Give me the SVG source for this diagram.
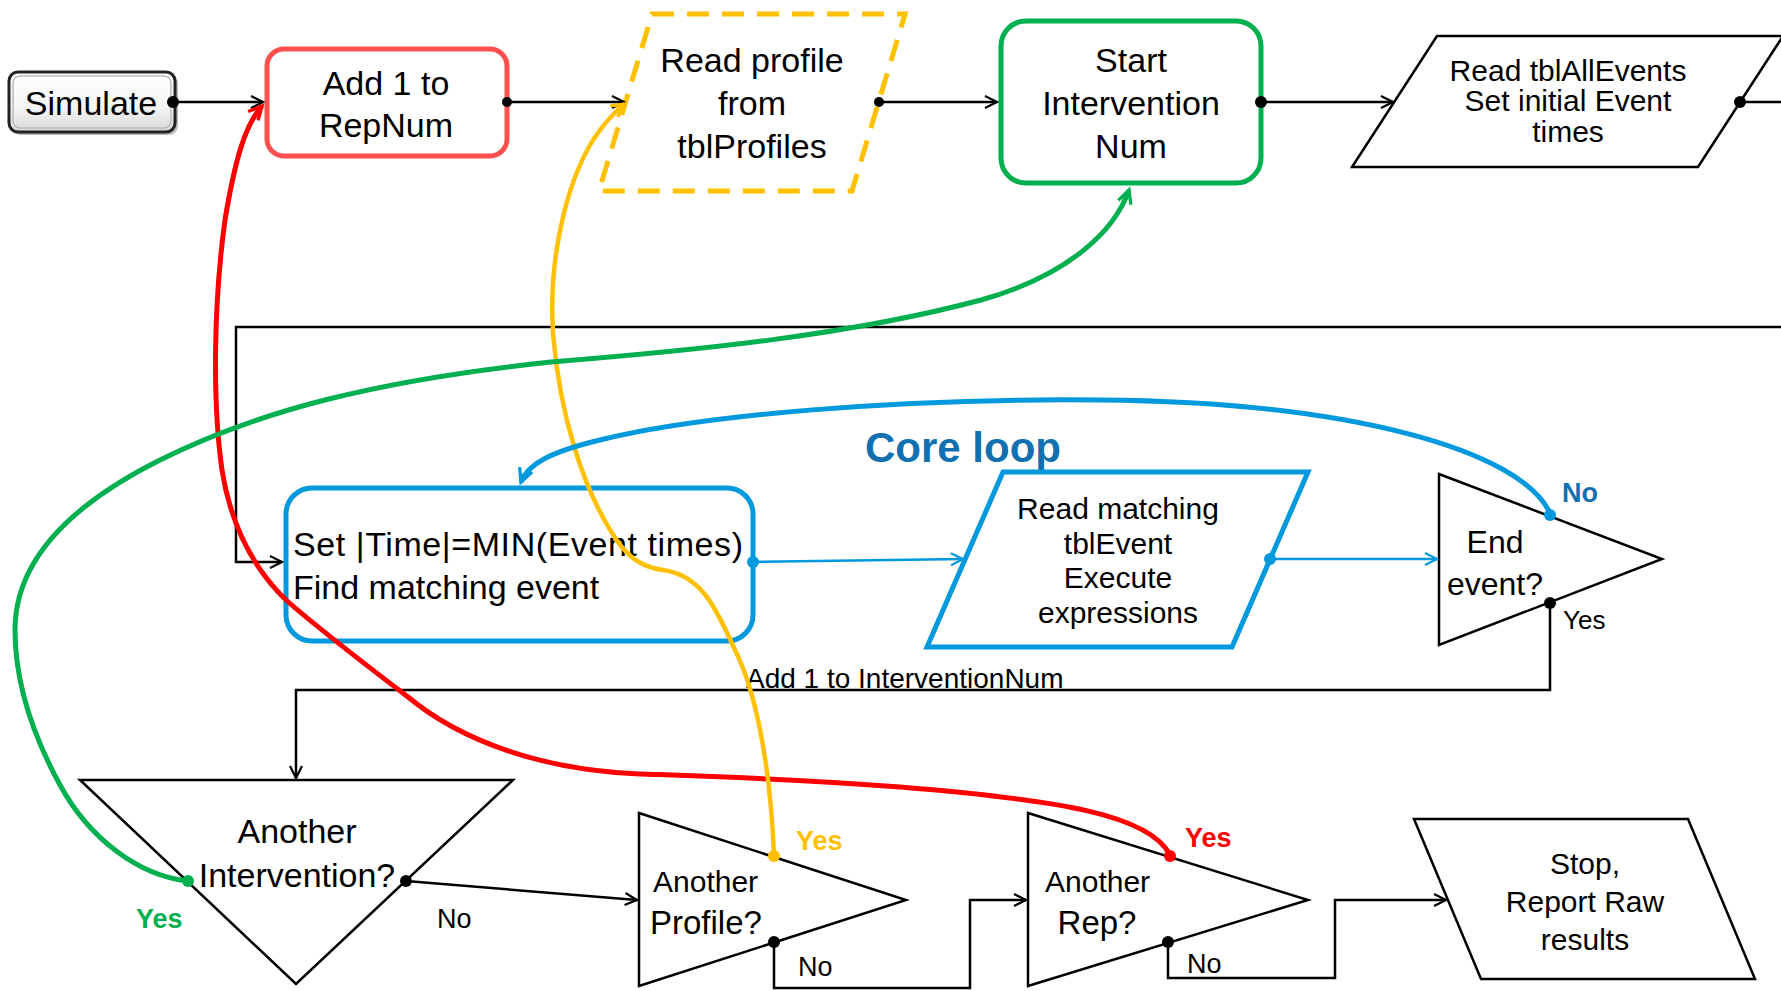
<svg xmlns="http://www.w3.org/2000/svg" width="1781" height="991" viewBox="0 0 1781 991">
<style>
text{font-family:"Liberation Sans",Arial,sans-serif;fill:#000}
.t34{font-size:34px}
.t30{font-size:30px}
.t28{font-size:28px}
.t26{font-size:26px}
.c{text-anchor:middle}
.b{font-weight:bold}
.blk{fill:none;stroke:#000;stroke-width:2.5}
.shape{fill:#fff;stroke:#000;stroke-width:2.5}
.dot{fill:#000}
</style>
<defs>
<linearGradient id="gloss" x1="0" y1="0" x2="0" y2="1">
<stop offset="0" stop-color="#ffffff"/>
<stop offset="0.6" stop-color="#f4f4f4"/>
<stop offset="1" stop-color="#d8d8d8"/>
</linearGradient>
<marker id="aK" markerUnits="userSpaceOnUse" markerWidth="18" markerHeight="18" refX="13" refY="7" orient="auto" viewBox="0 0 18 14">
<path d="M1,1 L13,7 L1,13" fill="none" stroke="#000" stroke-width="2.2"/>
</marker>
<marker id="aB" markerUnits="userSpaceOnUse" markerWidth="18" markerHeight="18" refX="13" refY="7" orient="auto" viewBox="0 0 18 14">
<path d="M1,1 L13,7 L1,13" fill="none" stroke="#0099DD" stroke-width="2.2"/>
</marker>
<marker id="aR" markerUnits="userSpaceOnUse" markerWidth="20" markerHeight="20" refX="13" refY="7" orient="auto" viewBox="0 0 18 14">
<path d="M1,1 L13,7 L1,13" fill="none" stroke="#FF0000" stroke-width="3"/>
</marker>
<marker id="aY" markerUnits="userSpaceOnUse" markerWidth="20" markerHeight="20" refX="13" refY="7" orient="auto" viewBox="0 0 18 14">
<path d="M1,1 L13,7 L1,13" fill="none" stroke="#FFC000" stroke-width="3"/>
</marker>
<marker id="aG" markerUnits="userSpaceOnUse" markerWidth="20" markerHeight="20" refX="13" refY="7" orient="auto" viewBox="0 0 18 14">
<path d="M1,1 L13,7 L1,13" fill="none" stroke="#00B050" stroke-width="3"/>
</marker>
<marker id="aBL" markerUnits="userSpaceOnUse" markerWidth="20" markerHeight="20" refX="13" refY="7" orient="auto" viewBox="0 0 18 14">
<path d="M1,1 L13,7 L1,13" fill="none" stroke="#0099DD" stroke-width="3"/>
</marker>
</defs>
<rect width="1781" height="991" fill="#fff"/>

<g id="simulate">
<rect x="11" y="74" width="167" height="61" rx="9" fill="#777" opacity="0.5"/>
<rect x="9" y="72" width="166" height="60" rx="9" fill="url(#gloss)" stroke="#222" stroke-width="3"/>
<rect x="13" y="76" width="158" height="52" rx="7" fill="none" stroke="#bbb" stroke-width="1.5"/>
<text class="t34 c" x="91" y="115">Simulate</text>
</g>

<g id="addrep">
<rect x="267" y="49" width="240" height="107" rx="17" fill="#fff" stroke="#FF5050" stroke-width="5"/>
<text class="t34 c" x="386" y="95">Add 1 to</text>
<text class="t34 c" x="386" y="137">RepNum</text>
</g>

<g id="readprofile">
<polygon points="652,14 905,14 852,191 599,191" fill="#fff" stroke="#FFC000" stroke-width="5" stroke-dasharray="22,13"/>
<text class="t34 c" x="752" y="72">Read profile</text>
<text class="t34 c" x="752" y="115">from</text>
<text class="t34 c" x="752" y="158">tblProfiles</text>
</g>

<g id="startint">
<rect x="1001" y="21" width="260" height="162" rx="25" fill="#fff" stroke="#00B050" stroke-width="5"/>
<text class="t34 c" x="1131" y="72">Start</text>
<text class="t34 c" x="1131" y="115">Intervention</text>
<text class="t34 c" x="1131" y="158">Num</text>
</g>

<g id="readall">
<polygon points="1437,36 1783,36 1698,167 1352,167" class="shape"/>
<text class="t30 c" x="1568" y="81">Read tblAllEvents</text>
<text class="t30 c" x="1568" y="111">Set initial Event</text>
<text class="t30 c" x="1568" y="142">times</text>
</g>

<g id="setbox">
<rect x="286" y="488" width="467" height="153" rx="26" fill="#fff" stroke="#0099DD" stroke-width="5"/>
<text class="t34" x="293" y="556" textLength="450" lengthAdjust="spacing">Set |Time|=MIN(Event times)</text>
<text class="t34" x="293" y="599">Find matching event</text>
</g>

<g id="corelabel">
<text class="b" x="865" y="462" font-size="42" style="fill:#1170B0">Core loop</text>
</g>

<g id="readmatch">
<polygon points="1003,472 1308,472 1232,647 927,647" fill="#fff" stroke="#0099DD" stroke-width="5"/>
<text class="t30 c" x="1118" y="519">Read matching</text>
<text class="t30 c" x="1118" y="554">tblEvent</text>
<text class="t30 c" x="1118" y="588">Execute</text>
<text class="t30 c" x="1118" y="623">expressions</text>
</g>

<g id="endevent">
<polygon points="1439,474 1662,559 1439,645" class="shape"/>
<text class="c" x="1495" y="553" font-size="32">End</text>
<text class="c" x="1495" y="595" font-size="32">event?</text>
<text class="b" x="1562" y="502" font-size="27" style="fill:#1170B0">No</text>
<text class="t26" x="1563" y="629">Yes</text>
</g>

<g id="addint-label">
<text class="t28" x="746" y="688">Add 1 to InterventionNum</text>
</g>

<g id="anotherint">
<polygon points="80,780 513,780 296,984" class="shape"/>
<text class="t34 c" x="297" y="843">Another</text>
<text class="t34 c" x="297" y="887">Intervention?</text>
<text class="b" x="136" y="928" font-size="27" style="fill:#00B050">Yes</text>
<text x="437" y="928" font-size="27">No</text>
</g>

<g id="anotherprofile">
<polygon points="639,813 906,900 639,986" class="shape"/>
<text class="t30" x="653" y="892">Another</text>
<text x="650" y="934" font-size="33">Profile?</text>
<text class="b" x="796" y="850" font-size="27" style="fill:#FFC000">Yes</text>
<text x="798" y="976" font-size="27">No</text>
</g>

<g id="anotherrep">
<polygon points="1028,813 1308,900 1028,986" class="shape"/>
<text class="t30" x="1045" y="892">Another</text>
<text class="c" x="1097" y="934" font-size="33">Rep?</text>
<text class="b" x="1185" y="847" font-size="27" style="fill:#FF0000">Yes</text>
<text x="1187" y="973" font-size="27">No</text>
</g>

<g id="stop">
<polygon points="1414,819 1688,819 1755,979 1481,979" class="shape"/>
<text class="t30 c" x="1585" y="874">Stop,</text>
<text class="t30 c" x="1585" y="912">Report Raw</text>
<text class="t30 c" x="1585" y="950">results</text>
</g>

<g id="connectors">
<!-- black top flow -->
<path class="blk" d="M173,102 H263" marker-end="url(#aK)"/>
<path class="blk" d="M507,102 H624" marker-end="url(#aK)"/>
<path class="blk" d="M879,102 H997" marker-end="url(#aK)"/>
<path class="blk" d="M1261,102 H1393" marker-end="url(#aK)"/>
<path class="blk" d="M1740,102 H1781"/>
<!-- loop return -->
<path class="blk" d="M1781,327 H236 V562 H282" marker-end="url(#aK)"/>
<!-- core loop -->
<path d="M753,562 L963,559" fill="none" stroke="#0099DD" stroke-width="2.5" marker-end="url(#aB)"/>
<path d="M1270,559 L1437,559" fill="none" stroke="#0099DD" stroke-width="2.5" marker-end="url(#aB)"/>
<!-- end event yes -->
<path class="blk" d="M1550,603 V690 H296 V778" marker-end="url(#aK)"/>
<!-- another intervention no -->
<path class="blk" d="M406,881 L637,900" marker-end="url(#aK)"/>
<!-- profile no -->
<path class="blk" d="M774,942 V988 H970 V900 H1026" marker-end="url(#aK)"/>
<!-- rep no -->
<path class="blk" d="M1168,942 V978 H1335 V900 H1446" marker-end="url(#aK)"/>
<!-- colored curves -->
<path d="M1170,855 C1150,815 1060,800 900,787 C780,778 700,776 640,774 C540,770 460,740 408,697 C370,668 320,630 286,600 C250,565 230,520 222,470 C212,400 214,300 225,220 C235,160 245,125 262,106" fill="none" stroke="#FF0000" stroke-width="5" marker-end="url(#aR)"/>
<path d="M774,855 C770,760 755,690 735,650 C715,605 700,575 663,570 C640,567 625,555 612,533 C585,490 560,420 553,333 C548,250 570,170 600,130 C610,117 616,110 625,104" fill="none" stroke="#FFC000" stroke-width="4.5" marker-end="url(#aY)"/>
<path d="M188,881 C140,876 90,840 60,785 C30,730 15,680 15,630 C15,560 70,505 160,460 C260,410 380,380 551,362 C700,350 850,335 981,300 C1070,275 1115,230 1129,190" fill="none" stroke="#00B050" stroke-width="5" marker-end="url(#aG)"/>
<path d="M1550,513 C1520,450 1350,402 1100,400 C900,398 700,415 600,440 C550,452 528,464 521,482" fill="none" stroke="#0099DD" stroke-width="5" marker-end="url(#aBL)"/>
<!-- connection dots -->
<circle class="dot" cx="173" cy="102" r="6"/>
<circle class="dot" cx="507" cy="102" r="5"/>
<circle class="dot" cx="879" cy="102" r="5"/>
<circle class="dot" cx="1261" cy="102" r="6"/>
<circle class="dot" cx="1740" cy="102" r="6"/>
<circle cx="753" cy="562" r="6" fill="#0099DD"/>
<circle cx="1270" cy="559" r="6" fill="#0099DD"/>
<circle cx="1550" cy="515" r="6" fill="#0099DD"/>
<circle class="dot" cx="1550" cy="603" r="6"/>
<circle cx="188" cy="881" r="6" fill="#00B050"/>
<circle class="dot" cx="406" cy="881" r="6"/>
<circle cx="774" cy="856" r="6" fill="#FFC000"/>
<circle class="dot" cx="774" cy="942" r="6"/>
<circle cx="1170" cy="856" r="6" fill="#FF0000"/>
<circle class="dot" cx="1168" cy="942" r="6"/>
</g>
</svg>
